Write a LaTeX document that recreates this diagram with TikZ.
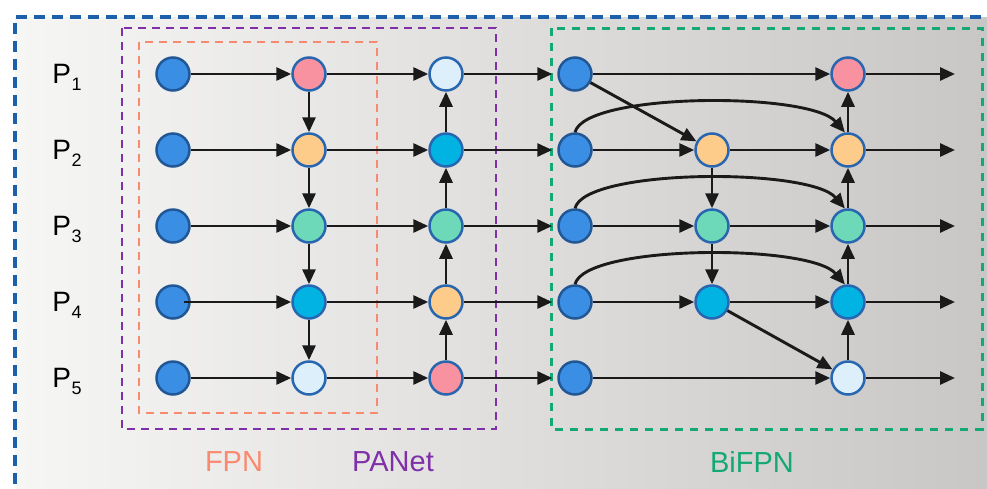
\documentclass[tikz,border=0pt]{standalone}
\usepackage{fontspec}
\setmainfont{Liberation Sans}
\usetikzlibrary{arrows.meta,backgrounds}
\definecolor{bgL}{HTML}{F6F6F5}
\definecolor{bgR}{HTML}{C9C7C6}
\definecolor{nodeborder}{HTML}{2866B0}
\definecolor{cIn}{HTML}{3A8EE3}
\definecolor{cPink}{HTML}{F891A0}
\definecolor{cYel}{HTML}{FDCB8A}
\definecolor{cMint}{HTML}{6ED9B8}
\definecolor{cCyan}{HTML}{00B3E3}
\definecolor{cPale}{HTML}{DCEFFA}
\definecolor{boxBlue}{HTML}{1D5FA8}
\definecolor{boxPurple}{HTML}{7F2FA8}
\definecolor{boxOrange}{HTML}{F98A70}
\definecolor{boxGreen}{HTML}{13A874}
\definecolor{arrowc}{HTML}{1A1A1A}
\tikzset{
  fnode/.style={circle, minimum size=33pt, inner sep=0pt, draw=nodeborder, line width=2.5pt},
  innode/.style={fnode, fill=cIn, draw=nodeborder!85!black},
  arr/.style={draw=arrowc, line width=2.9pt, -{Triangle[length=15pt,width=13pt]}},
  plabel/.style={font=\fontsize{28}{28}\selectfont, text=black},
  glabel/.style={font=\fontsize{29}{29}\selectfont},
}
\newcommand{\plab}[1]{P\hspace{0.5pt}\raisebox{-0.25em}{\fontsize{18}{18}\selectfont #1}}
\begin{document}
\begin{tikzpicture}[x=1pt,y=-1pt]
\useasboundingbox (0,0) rectangle (987,488);
\fill[white] (0,0) rectangle (987,488);
\shade[left color=bgL,right color=bgR] (15,17) rectangle (987,488);

% dashed boxes
\draw[boxBlue, line width=4.5pt, dash pattern=on 11pt off 7pt] (15,520) -- (15,17) -- (1010,17);
\draw[boxPurple, line width=2.5pt, dash pattern=on 8pt off 6pt] (122,28) rectangle (496,429);
\draw[boxOrange, line width=2.5pt, dash pattern=on 8pt off 6pt] (139,42) rectangle (377,413);
\draw[boxGreen, line width=3pt, dash pattern=on 8pt off 7pt] (551,28) rectangle (982,429);

% row labels
\node[plabel] (p1) at (67,77) {\plab{1}};
\node[plabel] (p2) at (67,153) {\plab{2}};
\node[plabel] (p3) at (67,229) {\plab{3}};
\node[plabel] (p4) at (67,305) {\plab{4}};
\node[plabel] (p5) at (67,381) {\plab{5}};

% column 1 inputs
\node[innode] (a1) at (173,74) {};
\node[innode] (a2) at (173,150) {};
\node[innode] (a3) at (173,226) {};
\node[innode] (a4) at (173,302) {};
\node[innode] (a5) at (173,378) {};
% column 2 FPN
\node[fnode, fill=cPink] (b1) at (309,74) {};
\node[fnode, fill=cYel]  (b2) at (309,150) {};
\node[fnode, fill=cMint] (b3) at (309,226) {};
\node[fnode, fill=cCyan] (b4) at (309,302) {};
\node[fnode, fill=cPale] (b5) at (309,378) {};
% column 3 PANet
\node[fnode, fill=cPale] (c1) at (446,74) {};
\node[fnode, fill=cCyan] (c2) at (446,150) {};
\node[fnode, fill=cMint] (c3) at (446,226) {};
\node[fnode, fill=cYel]  (c4) at (446,302) {};
\node[fnode, fill=cPink] (c5) at (446,378) {};
% column 4 BiFPN inputs
\node[innode] (d1) at (575,74) {};
\node[innode] (d2) at (575,150) {};
\node[innode] (d3) at (575,226) {};
\node[innode] (d4) at (575,302) {};
\node[innode] (d5) at (575,378) {};
% column 5 BiFPN middle
\node[fnode, fill=cYel]  (e2) at (712,150) {};
\node[fnode, fill=cMint] (e3) at (712,226) {};
\node[fnode, fill=cCyan] (e4) at (712,302) {};
% column 6 BiFPN outputs
\node[fnode, fill=cPink] (f1) at (848,74) {};
\node[fnode, fill=cYel]  (f2) at (848,150) {};
\node[fnode, fill=cMint] (f3) at (848,226) {};
\node[fnode, fill=cCyan] (f4) at (848,302) {};
\node[fnode, fill=cPale] (f5) at (848,378) {};

% output ends
\coordinate (o1) at (955,74);
\coordinate (o2) at (955,150);
\coordinate (o3) at (955,226);
\coordinate (o4) at (955,302);
\coordinate (o5) at (955,378);
\coordinate (a4s) at (184,302);

% FPN
\draw[arr] (a1) -- (b1);
\draw[arr] (a2) -- (b2);
\draw[arr] (a3) -- (b3);
\draw[arr] (a4s) -- (b4);
\draw[arr] (a5) -- (b5);
\draw[arr] (b1) -- (b2);
\draw[arr] (b2) -- (b3);
\draw[arr] (b3) -- (b4);
\draw[arr] (b4) -- (b5);
% PANet
\foreach \i in {1,...,5} {\draw[arr] (b\i) -- (c\i);}
\draw[arr] (c5) -- (c4);
\draw[arr] (c4) -- (c3);
\draw[arr] (c3) -- (c2);
\draw[arr] (c2) -- (c1);
\foreach \i in {1,...,5} {\draw[arr, shorten >=5pt] (c\i) -- (d\i);}
% BiFPN
\draw[arr] (d1) -- (f1);
\draw[arr] (d1) -- (e2);
\draw[arr] (d2) -- (e2);
\draw[arr] (d3) -- (e3);
\draw[arr] (d4) -- (e4);
\draw[arr] (d5) -- (f5);
\draw[arr] (e2) -- (f2);
\draw[arr] (e3) -- (f3);
\draw[arr] (e4) -- (f4);
\draw[arr] (e2) -- (e3);
\draw[arr] (e3) -- (e4);
\draw[arr] (e4) -- (f5);
\foreach \i in {2,3,4} {\draw[arr] (d\i.north) .. controls +(10,-40) and +(-35,-41) .. (f\i.100);}
\draw[arr] (f5) -- (f4);
\draw[arr] (f4) -- (f3);
\draw[arr] (f3) -- (f2);
\draw[arr] (f2) -- (f1);
\foreach \i in {1,...,5} {\draw[arr] (f\i) -- (o\i);}

% group labels
\node[glabel, text=boxOrange] (lfpn) at (234,462) {FPN};
\node[glabel, text=boxPurple] (lpan) at (393,462) {PANet};
\node[glabel, text=boxGreen] (lbif) at (752,462) {BiFPN};
\end{tikzpicture}
\end{document}
